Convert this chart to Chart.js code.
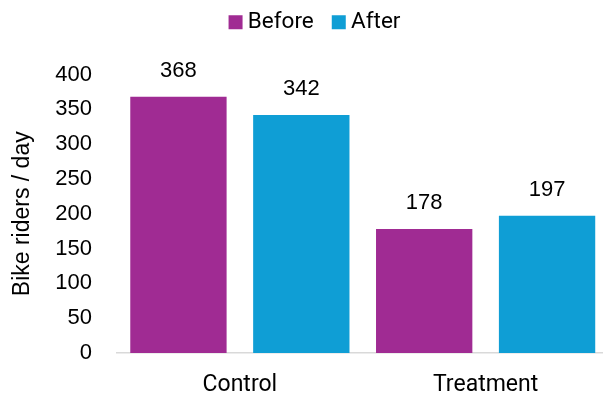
<!DOCTYPE html>
<html>
<head>
<meta charset="utf-8">
<script src="https://cdn.jsdelivr.net/npm/chart.js@4/dist/chart.umd.min.js"></script>
<style>
  html, body { margin: 0; padding: 0; background: #ffffff; }
  #wrap { width: 603px; height: 397px; position: relative; }
</style>
</head>
<body>
<div id="wrap"><canvas id="chart"></canvas></div>
<script>
// Bike riders per day, before and after, for each group
const categories = ['Control', 'Treatment'];
const beforeValues = [368, 178];
const afterValues = [342, 197];
const seriesNames = ['Before', 'After'];
const yTicks = [0, 50, 100, 150, 200, 250, 300, 350, 400];

const PURPLE = '#A02B93';
const BLUE = '#0F9ED5';
const NUM_FONT = '"Liberation Sans", Arial, sans-serif';
const TEXT_FONT = 'Roboto, "Noto Sans", sans-serif';

// Writes each bar's value just above it
const valueLabels = {
  id: 'valueLabels',
  afterDatasetsDraw(chart) {
    const ctx = chart.ctx;
    ctx.save();
    ctx.font = '22px ' + NUM_FONT;
    ctx.fillStyle = '#000000';
    ctx.textAlign = 'center';
    ctx.textBaseline = 'middle';
    chart.data.datasets.forEach((ds, i) => {
      const meta = chart.getDatasetMeta(i);
      meta.data.forEach((bar, j) => {
        ctx.fillText(String(ds.data[j]), bar.x, bar.y - 26);
      });
    });
    ctx.restore();
  }
};

// Leaves room under the legend for the value labels, nudges the legend,
// and lets the category axis run a little past the right edge
const layoutTweaks = {
  id: 'layoutTweaks',
  beforeInit(chart) {
    const fit = chart.legend.fit;
    chart.legend.fit = function () {
      fit.bind(chart.legend)();
      this.height += 18;
    };
  },
  afterLayout(chart) {
    const lg = chart.legend;
    lg.left += 16;
    lg.right += 16;
    lg.top -= 13;
    lg.bottom -= 13;

    const x = chart.scales.x;
    const extra = 5.5;
    x.right += extra;
    x.width += extra;
    x.configure();
    chart.chartArea.right += extra;
    chart.chartArea.width += extra;
  }
};

new Chart(document.getElementById('chart'), {
  type: 'bar',
  data: {
    labels: categories,
    datasets: [
      { label: seriesNames[0], data: beforeValues, backgroundColor: PURPLE,
        categoryPercentage: 1.0, barPercentage: 0.784 },
      { label: seriesNames[1], data: afterValues, backgroundColor: BLUE,
        categoryPercentage: 1.0, barPercentage: 0.784 }
    ]
  },
  options: {
    responsive: true,
    maintainAspectRatio: false,
    animation: false,
    layout: { padding: 0 },
    plugins: {
      legend: {
        position: 'top',
        labels: {
          usePointStyle: true,
          pointStyle: 'rect',
          boxWidth: 2,
          boxHeight: 14,
          padding: 24,
          color: '#000000',
          font: { family: TEXT_FONT, size: 22.5 }
        }
      },
      tooltip: { enabled: false }
    },
    scales: {
      x: {
        grid: { display: false, drawTicks: false },
        border: { display: true, color: '#D9D9D9', width: 1.5 },
        ticks: {
          color: '#000000',
          padding: 18,
          font: { family: TEXT_FONT, size: 23 }
        },
        afterFit(scale) { scale.height = 44; }
      },
      y: {
        min: 0,
        max: 400,
        afterBuildTicks(axis) { axis.ticks = yTicks.map(v => ({ value: v })); },
        grid: { display: false, drawTicks: false },
        border: { display: false },
        ticks: {
          color: '#000000',
          padding: 25,
          font: { family: NUM_FONT, size: 22 }
        },
        title: {
          display: true,
          text: 'Bike riders / day',
          color: '#000000',
          padding: { top: 9, bottom: 0 },
          font: { family: NUM_FONT, size: 23 }
        },
        afterFit(scale) { scale.width = 117; }
      }
    }
  },
  plugins: [valueLabels, layoutTweaks]
});
</script>
</body>
</html>
